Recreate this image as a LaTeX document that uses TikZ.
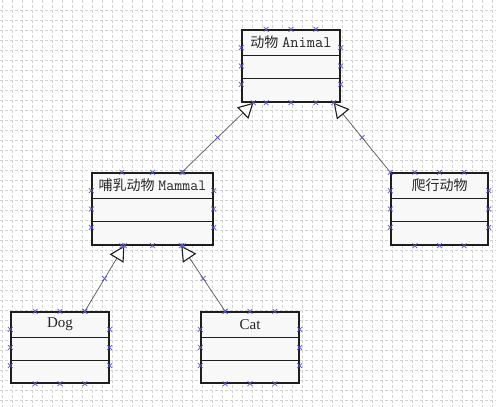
\documentclass[tikz,border=0pt]{standalone}
\usepackage{fontspec}
\setmainfont{Liberation Serif}
\newfontfamily\cjk{Noto Sans CJK SC}
\usetikzlibrary{arrows.meta,calc}
\definecolor{gridc}{HTML}{D2D2D2}
\definecolor{markc}{HTML}{5858C8}
\definecolor{boxfill}{HTML}{F8F8F8}
\definecolor{linec}{HTML}{555555}
\definecolor{edgec}{HTML}{1E1E1E}
\newcommand{\boxmarks}[1]{%
  \foreach \f in {0.25,0.5,0.75}{%
    \pic at ($(#1.north west)!\f!(#1.north east)$) {xmark};
    \pic at ($(#1.south west)!\f!(#1.south east)$) {xmark};
    \pic at ($(#1.north west)!\f!(#1.south west)$) {xmark};
    \pic at ($(#1.north east)!\f!(#1.south east)$) {xmark};
  }}
\begin{document}
\begin{tikzpicture}[x=1pt,y=-1pt,
  umlbox/.style={draw=edgec, line width=1.4pt, fill=boxfill, inner sep=0pt},
  divider/.style={draw=edgec, line width=1.2pt},
  gen/.style={draw=linec, line width=0.7pt,
    -{Triangle[length=15pt,width=16pt,fill=white,color=edgec,line width=1.1pt]}},
  xmark/.pic={\draw[markc, line width=0.7pt] (-2.4pt,-2.4pt)--(2.4pt,2.4pt) (-2.4pt,2.4pt)--(2.4pt,-2.4pt);},
  title/.style={font=\fontsize{15}{17}\selectfont, inner sep=0pt, text=black!85},
  gridline/.style={draw=gridc, dash pattern=on 3pt off 2pt, line width=0.6pt}
]
\useasboundingbox (0,0) rectangle (496,407);
\fill[white] (0,0) rectangle (496,407);
\foreach \x in {2,12,...,492} \draw[gridline] (\x,0) -- (\x,407);
\foreach \y in {10,20,...,400} \draw[gridline] (0,\y) -- (496,\y);

% boxes
\node[umlbox, minimum width=98pt, minimum height=72pt] (animal) at (291,66) {};
\node[umlbox, minimum width=121pt, minimum height=72pt] (mammal) at (152.5,209) {};
\node[umlbox, minimum width=97pt, minimum height=72pt] (reptile) at (439.5,209) {};
\node[umlbox, minimum width=98pt, minimum height=71pt] (dog) at (60,347.5) {};
\node[umlbox, minimum width=98pt, minimum height=71pt] (cat) at (250,347.5) {};

\foreach \b in {animal,mammal,reptile,dog,cat}{
  \draw[divider] ($(\b.north west)+(0,26)$) -- ($(\b.north east)+(0,26)$);
  \draw[divider] ($(\b.north west)+(0,49)$) -- ($(\b.north east)+(0,49)$);
}

% titles
\node[title] (tanimal) at ($(animal.north)+(0,13)$) {{\cjk\fontsize{14}{16}\selectfont 动物} {\ttfamily\fontsize{16}{18}\selectfont Animal}};
\node[title] (tmammal) at ($(mammal.north)+(0,13)$) {{\cjk\fontsize{14}{16}\selectfont 哺乳动物} {\ttfamily\fontsize{15.5}{18}\selectfont Mammal}};
\node[title] (treptile) at ($(reptile.north)+(0,13)$) {{\cjk\fontsize{14}{16}\selectfont 爬行动物}};
\node[title] (tdog) at ($(dog.north)+(0,13)$) {Dog};
\node[title] (tcat) at ($(cat.north)+(0,13)$) {Cat};

% connector end points
\coordinate (m1) at ($(mammal.north west)!0.74!(mammal.north east)$);
\coordinate (a1) at ($(animal.south west)!0.122!(animal.south east)$);
\coordinate (r1) at (reptile.north west);
\coordinate (a2) at ($(animal.south west)!0.93!(animal.south east)$);
\coordinate (d1) at ($(dog.north west)!0.75!(dog.north east)$);
\coordinate (m2) at ($(mammal.south west)!0.27!(mammal.south east)$);
\coordinate (c1) at ($(cat.north west)!0.25!(cat.north east)$);
\coordinate (m3) at ($(mammal.south west)!0.735!(mammal.south east)$);

\draw[gen] (m1) -- (a1);
\draw[gen] (r1) -- (a2);
\draw[gen] (d1) -- (m2);
\draw[gen] (c1) -- (m3);

% selection markers
\foreach \b in {animal,mammal,reptile,dog,cat}{\boxmarks{\b}}
\foreach \p/\q in {m1/a1,r1/a2,d1/m2,c1/m3}{
  \pic at (\p) {xmark};
  \pic at ($(\p)!0.5!(\q)$) {xmark};
  \pic at (\q) {xmark};
}
\end{tikzpicture}
\end{document}
